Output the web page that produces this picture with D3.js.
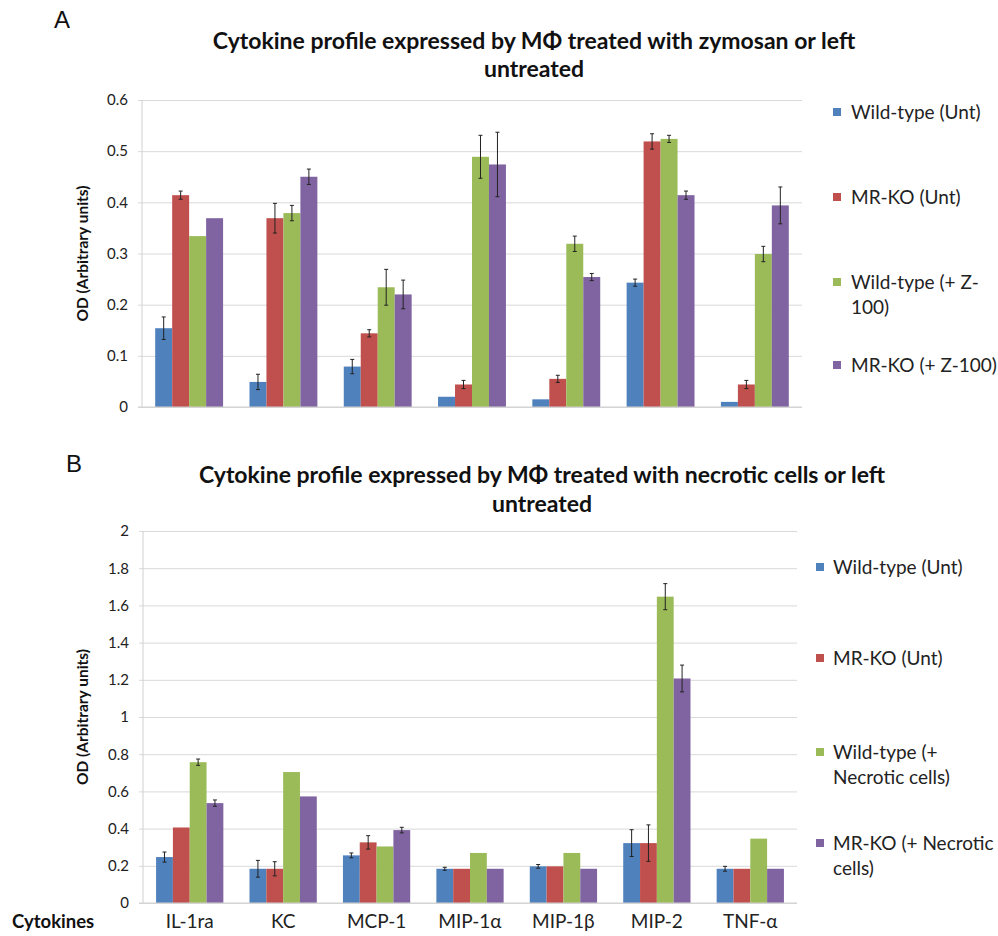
<!DOCTYPE html>
<html>
<head>
<meta charset="utf-8">
<script src="https://cdn.jsdelivr.net/npm/d3@7"></script>
<style>
  html, body { margin: 0; padding: 0; background: #fff; }
  svg { display: block; font-family: Lato, "Open Sans", sans-serif; }
</style>
</head>
<body>
<svg id="chart" width="998" height="936"></svg>
<script>
// ---------- DATA ----------
const categories = ["IL-1ra", "KC", "MCP-1", "MIP-1α", "MIP-1β", "MIP-2", "TNF-α"];
const seriesColors = ["#4F81BD", "#C0504D", "#9BBB59", "#8064A2"];

// Panel A: zymosan
const titleA = ["Cytokine profile expressed by MΦ treated with zymosan or left", "untreated"];
const legendA = [["Wild-type (Unt)"], ["MR-KO (Unt)"], ["Wild-type (+ Z-", "100)"], ["MR-KO (+ Z-100)"]];
const ticksA = [0, 0.1, 0.2, 0.3, 0.4, 0.5, 0.6];
const wtUntA   = [0.154, 0.049, 0.079, 0.020, 0.015, 0.243, 0.010];
const wtUntAErr= [0.022, 0.015, 0.014, 0, 0, 0.007, 0];
const koUntA   = [0.414, 0.369, 0.144, 0.044, 0.055, 0.519, 0.044];
const koUntAErr= [0.008, 0.029, 0.007, 0.008, 0.007, 0.015, 0.008];
const wtZA     = [0.334, 0.379, 0.234, 0.489, 0.319, 0.524, 0.299];
const wtZAErr  = [0, 0.015, 0.035, 0.042, 0.015, 0.007, 0.015];
const koZA     = [0.369, 0.450, 0.220, 0.474, 0.254, 0.414, 0.394];
const koZAErr  = [0, 0.015, 0.028, 0.063, 0.007, 0.008, 0.036];

// Panel B: necrotic cells
const titleB = ["Cytokine profile expressed by MΦ treated with necrotic cells or left", "untreated"];
const legendB = [["Wild-type (Unt)"], ["MR-KO (Unt)"], ["Wild-type (+", "Necrotic cells)"], ["MR-KO (+ Necrotic", "cells)"]];
const ticksB = [0, 0.2, 0.4, 0.6, 0.8, 1, 1.2, 1.4, 1.6, 1.8, 2];
const wtUntB   = [0.247, 0.184, 0.256, 0.184, 0.197, 0.322, 0.184];
const wtUntBErr= [0.027, 0.045, 0.013, 0.008, 0.010, 0.072, 0.013];
const koUntB   = [0.406, 0.184, 0.326, 0.184, 0.197, 0.322, 0.184];
const koUntBErr= [0, 0.038, 0.036, 0, 0, 0.098, 0];
const wtNB     = [0.757, 0.704, 0.304, 0.269, 0.269, 1.647, 0.346];
const wtNBErr  = [0.017, 0, 0, 0, 0, 0.070, 0];
const koNB     = [0.537, 0.573, 0.392, 0.184, 0.184, 1.207, 0.184];
const koNBErr  = [0.017, 0, 0.015, 0, 0, 0.072, 0];

const yAxisTitle = "OD (Arbitrary units)";
const xAxisTitle = "Cytokines";

// ---------- DRAW ----------
const svg = d3.select("#chart");

function drawPanel(cfg) {
  const g = svg.append("g");
  const x = d3.scaleBand().domain(categories).range([cfg.x0, cfg.x1])
    .paddingInner(0.28).paddingOuter(0.14);
  const xs = d3.scaleBand().domain(d3.range(4)).range([0, x.bandwidth()]);
  const y = d3.scaleLinear().domain([0, cfg.ymax]).range([cfg.yb, cfg.yt]);

  // gridlines + ticks
  const yAxis = d3.axisLeft(y).tickValues(cfg.ticks).tickSize(-(cfg.x1 - cfg.x0)).tickPadding(14)
    .tickFormat(d => String(+d.toFixed(2)));
  const ya = g.append("g").attr("transform", `translate(${cfg.x0},0)`).call(yAxis);
  ya.select(".domain").remove();
  ya.selectAll(".tick line").attr("stroke", "#d9d9d9").attr("x1", -4);
  ya.selectAll(".tick text").attr("font-size", 15).attr("fill", "#222")
    .attr("font-family", "Lato, sans-serif");
  // left axis line
  g.append("line").attr("x1", cfg.x0).attr("x2", cfg.x0).attr("y1", cfg.yt).attr("y2", cfg.yb)
    .attr("stroke", "#d0d0d0");

  const series = cfg.values.map((vals, si) => vals.map((v, ci) => ({
    si, cat: categories[ci], v, e: cfg.errors[si][ci]
  })));

  // bars
  series.forEach((s, si) => {
    g.append("g").selectAll("rect").data(s).join("rect")
      .attr("x", d => x(d.cat) + xs(si))
      .attr("width", xs.bandwidth())
      .attr("y", d => y(d.v))
      .attr("height", d => y(0) - y(d.v))
      .attr("fill", seriesColors[si]);
  });
  // bottom axis line
  g.append("line").attr("x1", cfg.x0 - 4).attr("x2", cfg.x1).attr("y1", y(0)).attr("y2", y(0))
    .attr("stroke", "#d0d0d0");

  // error bars
  series.forEach((s, si) => {
    const eg = g.append("g").attr("stroke", "#222").attr("stroke-width", 1);
    s.filter(d => d.e > 0).forEach(d => {
      const cx = x(d.cat) + xs(si) + xs.bandwidth() / 2;
      eg.append("line").attr("x1", cx).attr("x2", cx).attr("y1", y(d.v + d.e)).attr("y2", y(d.v - d.e));
      eg.append("line").attr("x1", cx - 2).attr("x2", cx + 2).attr("y1", y(d.v + d.e)).attr("y2", y(d.v + d.e));
      eg.append("line").attr("x1", cx - 2).attr("x2", cx + 2).attr("y1", y(d.v - d.e)).attr("y2", y(d.v - d.e));
    });
  });

  // title
  cfg.title.forEach((t, i) => {
    g.append("text").attr("x", cfg.titleX).attr("y", cfg.titleY + i * cfg.titleLH)
      .attr("text-anchor", "middle").attr("font-weight", "bold").attr("font-size", 23)
      .attr("fill", "#111").text(t);
  });
  // panel letter
  g.append("text").attr("x", cfg.letterX).attr("y", cfg.letterY)
    .attr("font-family", "'Liberation Sans', Arial, sans-serif").attr("font-size", 24)
    .attr("fill", "#111").text(cfg.letter);

  // y axis title
  g.append("text").attr("transform", `translate(${cfg.ytX},${(cfg.yt + cfg.yb) / 2}) rotate(-90)`)
    .attr("text-anchor", "middle").attr("dy", "0.35em").attr("font-weight", "bold")
    .attr("font-size", 15.5).attr("fill", "#111").text(yAxisTitle);

  // legend
  const lg = g.append("g");
  cfg.legend.forEach((lines, i) => {
    const cy = cfg.legendY[i];
    lg.append("rect").attr("x", cfg.legSqX).attr("y", cy - 4).attr("width", 8).attr("height", 8)
      .attr("fill", seriesColors[i]);
    lines.forEach((ln, j) => {
      lg.append("text").attr("x", cfg.legTxX).attr("y", cy + j * 25).attr("dy", "0.35em")
        .attr("font-size", 19).attr("fill", "#222").text(ln);
    });
  });

  // x labels
  if (cfg.xLabels) {
    g.append("g").selectAll("text").data(categories).join("text")
      .attr("x", d => x(d) + x.bandwidth() / 2).attr("y", cfg.xLabY)
      .attr("text-anchor", "middle").attr("font-size", 19).attr("fill", "#222").text(d => d);
    g.append("text").attr("x", 12).attr("y", cfg.xLabY).attr("font-weight", "bold")
      .attr("font-size", 18.5).attr("fill", "#111").text(xAxisTitle);
  }
}

drawPanel({
  x0: 142, x1: 802, yt: 100, yb: 407, ymax: 0.6, ticks: ticksA,
  values: [wtUntA, koUntA, wtZA, koZA], errors: [wtUntAErr, koUntAErr, wtZAErr, koZAErr],
  title: titleA, titleX: 534, titleY: 49, titleLH: 28,
  letter: "A", letterX: 54, letterY: 28, ytX: 83,
  legend: legendA, legendY: [112, 197, 282, 365], legSqX: 833, legTxX: 851,
  xLabels: false
});

drawPanel({
  x0: 143, x1: 797, yt: 531, yb: 903, ymax: 2, ticks: ticksB,
  values: [wtUntB, koUntB, wtNB, koNB], errors: [wtUntBErr, koUntBErr, wtNBErr, koNBErr],
  title: titleB, titleX: 542, titleY: 483, titleLH: 29,
  letter: "B", letterX: 66, letterY: 472, ytX: 83,
  legend: legendB, legendY: [567, 658, 752, 843], legSqX: 816, legTxX: 833,
  xLabels: true, xLabY: 928
});
</script>
</body>
</html>
